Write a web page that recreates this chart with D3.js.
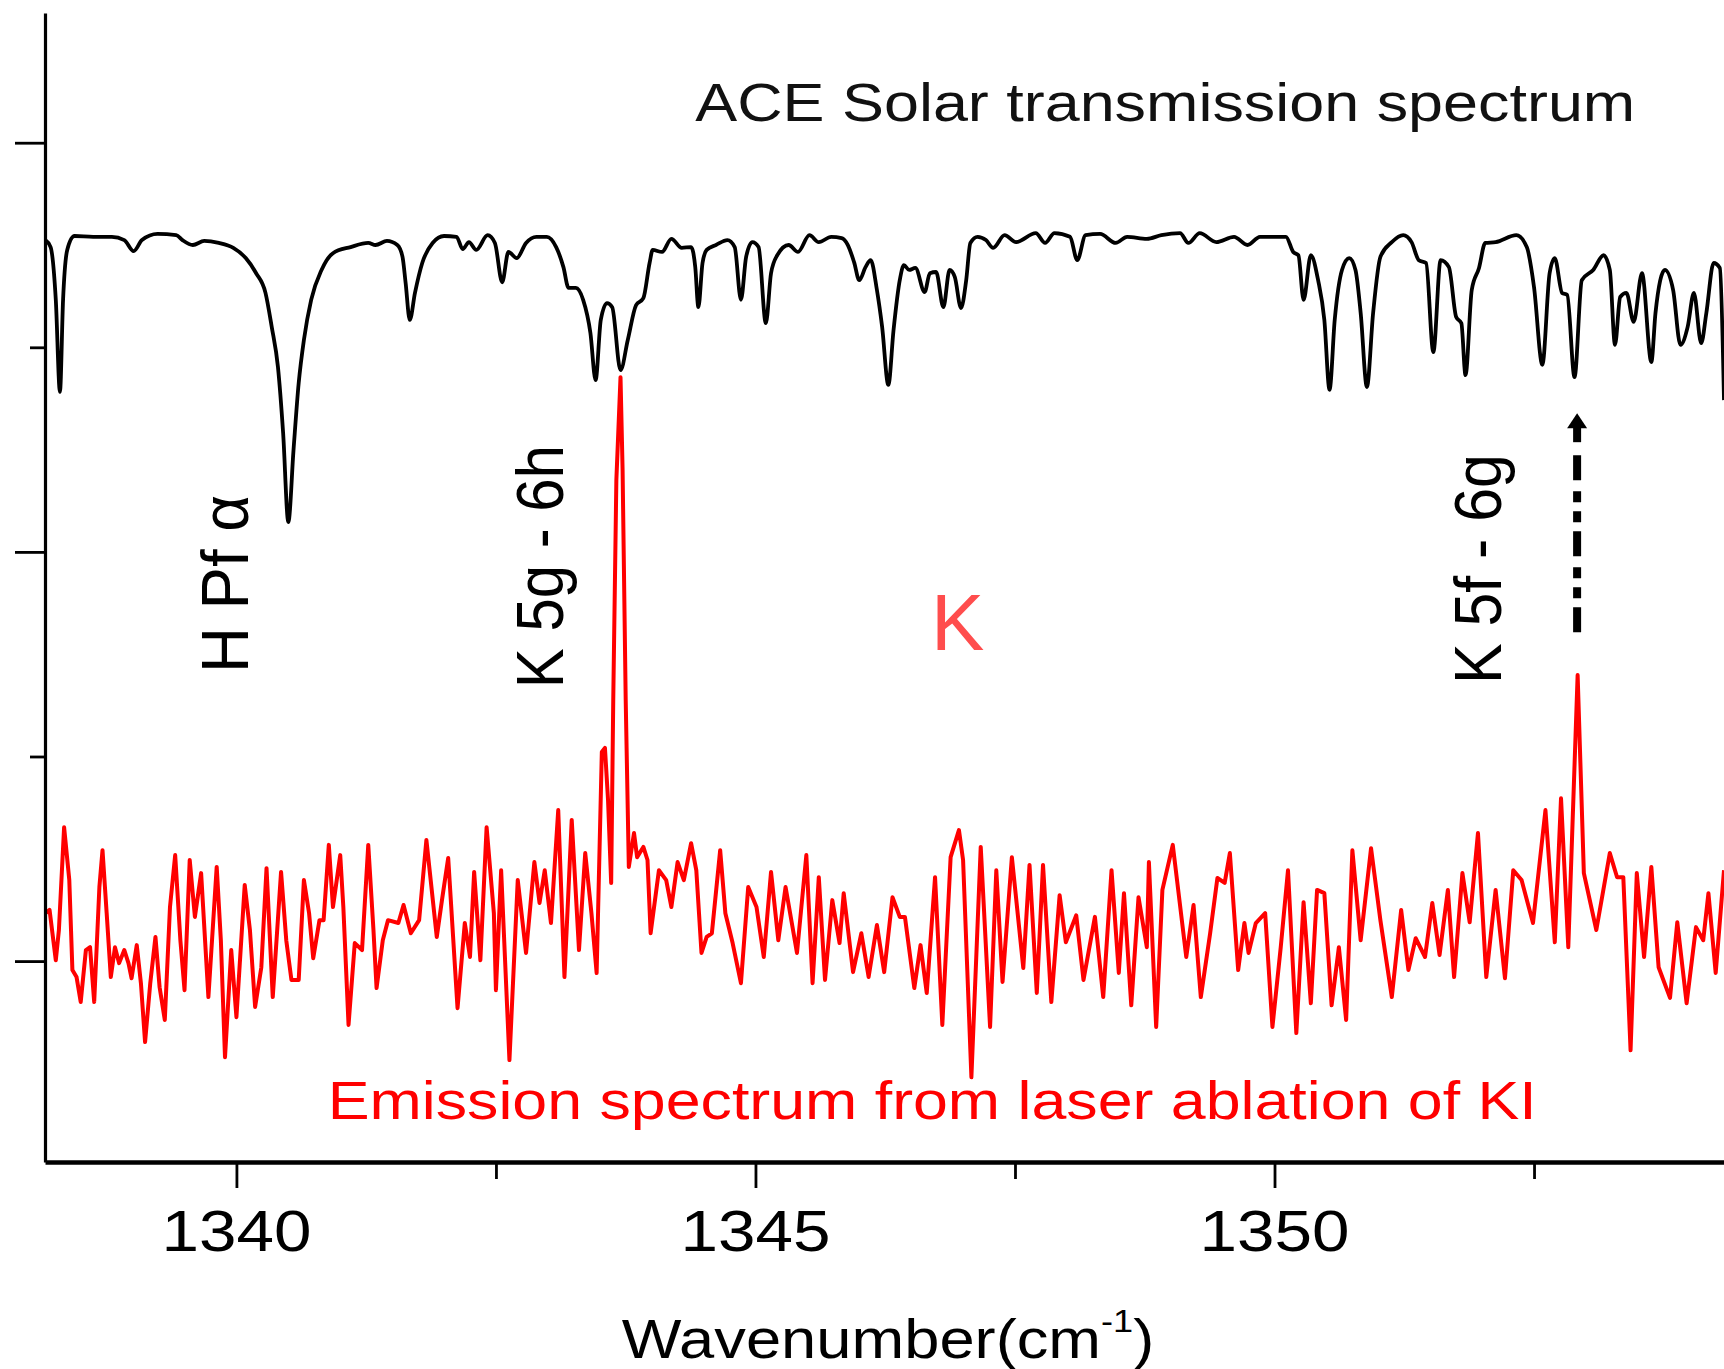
<!DOCTYPE html>
<html>
<head>
<meta charset="utf-8">
<script src="https://cdn.jsdelivr.net/npm/d3@7"></script>
<style>
  html, body { margin: 0; padding: 0; background: #fff; }
  svg { display: block; }
  text { font-family: "Liberation Sans", Arial, Helvetica, sans-serif; }
</style>
</head>
<body>
<script>
// ---------------- data ----------------
// ACE solar transmission spectrum (black, arbitrary units)
const solarWavenumber = [
1338.16,1338.21,1338.26,1338.30,1338.33,1338.37,1338.44,1338.62,1338.80,1338.92,1339.01,1339.09,1339.24,1339.42,1339.48,1339.58,1339.69,1339.83,1339.97,1340.09,
1340.19,1340.28,1340.34,1340.40,1340.45,1340.50,1340.55,1340.60,1340.65,1340.72,1340.82,1340.93,1341.10,1341.27,1341.34,1341.45,1341.55,1341.60,1341.63,1341.67,
1341.72,1341.79,1341.89,1342.00,1342.12,1342.18,1342.24,1342.31,1342.42,1342.49,1342.56,1342.62,1342.70,1342.79,1342.89,1342.99,1343.08,1343.15,1343.20,1343.27,
1343.34,1343.41,1343.46,1343.51,1343.57,1343.62,1343.70,1343.77,1343.85,1343.92,1343.98,1344.01,1344.10,1344.19,1344.29,1344.38,1344.42,1344.45,1344.49,1344.53,
1344.62,1344.73,1344.80,1344.86,1344.91,1344.97,1345.03,1345.10,1345.15,1345.21,1345.32,1345.41,1345.52,1345.61,1345.73,1345.83,1345.89,1345.95,1346.00,1346.06,
1346.11,1346.17,1346.22,1346.28,1346.33,1346.39,1346.43,1346.48,1346.54,1346.63,1346.68,1346.74,1346.81,1346.87,1346.92,1346.98,1347.03,1347.07,1347.14,1347.22,
1347.29,1347.40,1347.51,1347.70,1347.79,1347.88,1348.03,1348.10,1348.18,1348.32,1348.47,1348.58,1348.77,1348.91,1349.09,1349.17,1349.28,1349.44,1349.61,1349.74,
1349.86,1350.11,1350.18,1350.23,1350.28,1350.35,1350.42,1350.48,1350.53,1350.58,1350.65,1350.72,1350.78,1350.83,1350.89,1350.95,1351.02,1351.13,1351.24,1351.32,
1351.39,1351.46,1351.53,1351.60,1351.68,1351.75,1351.80,1351.84,1351.90,1351.97,1352.03,1352.13,1352.33,1352.43,1352.50,1352.58,1352.65,1352.70,1352.77,1352.82,
1352.89,1352.96,1353.07,1353.17,1353.23,1353.28,1353.33,1353.39,1353.46,1353.54,1353.63,1353.67,1353.76,1353.84,1353.91,1353.98,1354.04,1354.11,1354.16,1354.23,
1354.29,1354.33];
const solarSignal = [
1.762,1.745,1.616,1.391,1.616,1.738,1.772,1.770,1.770,1.762,1.735,1.762,1.777,1.774,1.762,1.750,1.760,1.755,1.743,1.718,
1.681,1.633,1.550,1.452,1.290,1.073,1.249,1.413,1.518,1.616,1.689,1.730,1.745,1.755,1.750,1.760,1.750,1.721,1.657,1.567,
1.633,1.706,1.755,1.772,1.770,1.740,1.757,1.738,1.774,1.755,1.659,1.733,1.718,1.755,1.770,1.770,1.745,1.696,1.645,1.645,
1.616,1.535,1.420,1.567,1.608,1.598,1.444,1.518,1.603,1.620,1.706,1.738,1.733,1.765,1.743,1.745,1.696,1.598,1.706,1.738,
1.750,1.762,1.745,1.616,1.721,1.757,1.745,1.559,1.681,1.725,1.750,1.733,1.774,1.757,1.770,1.767,1.750,1.708,1.664,1.696,
1.713,1.640,1.550,1.408,1.542,1.664,1.701,1.689,1.694,1.635,1.681,1.684,1.598,1.689,1.672,1.596,1.664,1.755,1.770,1.762,
1.743,1.774,1.757,1.779,1.755,1.779,1.770,1.713,1.774,1.777,1.755,1.770,1.765,1.774,1.779,1.755,1.779,1.757,1.770,1.750,
1.770,1.770,1.733,1.725,1.616,1.725,1.664,1.567,1.396,1.567,1.689,1.718,1.689,1.584,1.403,1.584,1.721,1.757,1.774,1.757,
1.713,1.706,1.488,1.713,1.696,1.574,1.559,1.432,1.640,1.694,1.755,1.757,1.774,1.745,1.647,1.457,1.681,1.718,1.633,1.628,
1.427,1.664,1.689,1.725,1.689,1.506,1.623,1.633,1.562,1.681,1.464,1.584,1.689,1.640,1.506,1.550,1.633,1.510,1.584,1.706,
1.694,1.371];

// Emission spectrum from laser ablation of KI (red, arbitrary units)
const emissionWavenumber = [
1338.16,1338.20,1338.26,1338.29,1338.34,1338.39,1338.42,1338.46,1338.50,1338.55,1338.59,1338.63,1338.68,1338.71,1338.75,1338.79,1338.83,1338.87,1338.92,1338.96,
1338.99,1339.04,1339.08,1339.12,1339.17,1339.22,1339.26,1339.31,1339.36,1339.41,1339.46,1339.50,1339.55,1339.60,1339.66,1339.73,1339.81,1339.85,1339.89,1339.95,
1340.00,1340.08,1340.13,1340.18,1340.24,1340.29,1340.35,1340.43,1340.48,1340.53,1340.60,1340.65,1340.70,1340.74,1340.80,1340.84,1340.89,1340.93,1341.00,1341.03,
1341.08,1341.14,1341.21,1341.27,1341.32,1341.35,1341.41,1341.46,1341.56,1341.61,1341.68,1341.76,1341.83,1341.93,1341.98,1342.04,1342.13,1342.20,1342.25,1342.29,
1342.35,1342.41,1342.48,1342.50,1342.55,1342.63,1342.71,1342.79,1342.87,1342.92,1342.97,1343.03,1343.10,1343.16,1343.23,1343.30,1343.36,1343.42,1343.47,1343.52,
1343.55,1343.58,1343.61,1343.63,1343.66,1343.70,1343.72,1343.75,1343.78,1343.83,1343.86,1343.92,1343.96,1343.99,1344.07,1344.14,1344.19,1344.25,1344.31,1344.38,
1344.43,1344.48,1344.53,1344.58,1344.66,1344.71,1344.78,1344.86,1344.93,1345.01,1345.08,1345.15,1345.22,1345.29,1345.40,1345.49,1345.55,1345.61,1345.67,1345.74,
1345.81,1345.85,1345.94,1346.02,1346.09,1346.17,1346.24,1346.32,1346.39,1346.44,1346.53,1346.59,1346.65,1346.73,1346.80,1346.88,1346.96,1347.00,1347.08,1347.17,
1347.26,1347.32,1347.38,1347.47,1347.58,1347.64,1347.71,1347.77,1347.85,1347.93,1347.99,1348.09,1348.16,1348.27,1348.35,1348.43,1348.50,1348.55,1348.62,1348.69,
1348.77,1348.79,1348.86,1348.92,1349.02,1349.15,1349.22,1349.29,1349.38,1349.45,1349.52,1349.57,1349.65,1349.71,1349.75,1349.82,1349.91,1349.98,1350.06,1350.13,
1350.21,1350.28,1350.35,1350.41,1350.48,1350.55,1350.62,1350.69,1350.75,1350.83,1350.93,1351.02,1351.13,1351.22,1351.29,1351.36,1351.45,1351.52,1351.59,1351.67,
1351.73,1351.81,1351.88,1351.96,1352.04,1352.13,1352.22,1352.30,1352.38,1352.49,1352.61,1352.70,1352.76,1352.83,1352.92,1352.98,1353.10,1353.23,1353.30,1353.36,
1353.43,1353.49,1353.56,1353.63,1353.70,1353.81,1353.88,1353.97,1354.06,1354.13,1354.18,1354.25,1354.33];
const emissionSignal = [
0.117,0.125,0.002,0.076,0.327,0.198,-0.022,-0.039,-0.100,0.027,0.034,-0.100,0.181,0.271,0.117,-0.039,0.034,-0.005,0.027,-0.005,
-0.042,0.039,-0.054,-0.198,-0.054,0.059,-0.064,-0.144,0.132,0.259,0.051,-0.071,0.247,0.108,0.215,-0.088,0.230,0.051,-0.235,0.027,
-0.137,0.186,0.076,-0.112,-0.015,0.227,-0.088,0.218,0.051,-0.046,-0.046,0.198,0.117,0.007,0.100,0.100,0.284,0.132,0.259,0.132,
-0.156,0.044,0.027,0.284,0.076,-0.066,0.051,0.100,0.093,0.137,0.068,0.100,0.296,0.059,0.149,0.252,-0.115,0.093,0.010,0.218,
0.002,0.327,0.117,-0.071,0.222,-0.242,0.198,0.020,0.242,0.142,0.222,0.093,0.369,-0.039,0.345,0.027,0.264,0.117,-0.029,0.511,
0.521,0.393,0.191,0.638,1.176,1.427,1.200,0.638,0.230,0.313,0.254,0.279,0.247,0.068,0.222,0.198,0.132,0.242,0.198,0.288,
0.222,0.020,0.059,0.068,0.271,0.117,0.044,-0.054,0.181,0.132,0.010,0.218,0.051,0.181,0.020,0.259,-0.054,0.205,-0.046,0.149,
0.044,0.166,-0.027,0.068,-0.039,0.088,-0.027,0.156,0.108,0.108,-0.066,0.039,-0.078,0.205,-0.156,0.254,0.320,0.247,-0.284,0.279,
-0.161,0.222,-0.051,0.254,-0.017,0.235,-0.078,0.235,-0.100,0.161,0.046,0.112,-0.046,0.108,-0.088,0.222,-0.029,0.166,-0.108,0.156,
0.034,0.242,-0.161,0.174,0.284,0.010,0.137,-0.088,0.068,0.203,0.191,0.264,-0.022,0.093,0.020,0.093,0.117,-0.161,0.034,0.222,
-0.176,0.144,-0.103,0.174,0.166,-0.108,0.034,-0.144,0.271,0.051,0.276,0.100,-0.088,0.125,-0.022,0.056,0.010,0.142,0.015,0.174,
-0.039,0.215,0.095,0.313,-0.039,0.174,-0.042,0.222,0.198,0.093,0.369,0.046,0.398,0.034,0.699,0.215,0.076,0.264,0.205,0.205,
-0.218,0.215,0.010,0.230,-0.015,-0.090,0.095,-0.103,0.083,0.051,0.166,-0.029,0.222];

// axis ticks
const xMajorTicks = [1340, 1345, 1350];
const xMinorTicks = [1342.5, 1347.5, 1352.5];
const yMajorTicks = [0, 1, 2];
const yMinorTicks = [0.5, 1.5];

// annotations (positions in data units)
const lineLabels = [
  { text: "H Pf α",    wn: 1340.11, v: 0.704, len: 178 },
  { text: "K 5g - 6h", wn: 1343.15, v: 0.667, len: 243 },
  { text: "K 5f - 6g", wn: 1352.18, v: 0.677, len: 230 }
];
const arrowWavenumber = 1352.915;
const arrowFrom = 0.802, arrowTo = 1.339;

// ---------------- chart ----------------
const W = 1724, H = 1369;
const svg = d3.select("body").append("svg")
  .attr("width", W).attr("height", H)
  .attr("viewBox", `0 0 ${W} ${H}`);

const x = d3.scaleLinear().domain([1338.156, 1354.33]).range([45, 1724]);
const y = d3.scaleLinear().domain([-0.491, 2.317]).range([1162, 13]);

const solar = d3.zip(solarWavenumber, solarSignal);
const emission = d3.zip(emissionWavenumber, emissionSignal);

svg.append("defs").append("clipPath").attr("id", "plotclip")
  .append("rect").attr("x", 45).attr("y", 0).attr("width", W - 45).attr("height", 1162);

const plot = svg.append("g").attr("clip-path", "url(#plotclip)");

plot.append("path")
  .datum(emission)
  .attr("fill", "none")
  .attr("stroke", "#ff0000")
  .attr("stroke-width", 4)
  .attr("stroke-linejoin", "round")
  .attr("d", d3.line().x(d => x(d[0])).y(d => y(d[1])));

plot.append("path")
  .datum(solar)
  .attr("fill", "none")
  .attr("stroke", "#000")
  .attr("stroke-width", 3.8)
  .attr("stroke-linejoin", "round")
  .attr("d", d3.line().curve(d3.curveMonotoneX).x(d => x(d[0])).y(d => y(d[1])));

// axes
function styleAxis(g, w) {
  g.selectAll("path.domain").attr("stroke", "#000").attr("stroke-width", w);
  g.selectAll(".tick line").attr("stroke", "#000").attr("stroke-width", 2.8);
  g.selectAll(".tick text").remove();
}
svg.append("g").attr("transform", "translate(0,1162)")
  .call(d3.axisBottom(x).tickValues(xMinorTicks).tickSize(17).tickSizeOuter(0).tickFormat(""))
  .call(g => styleAxis(g, 0));
svg.append("g").attr("transform", "translate(0,1162)")
  .call(d3.axisBottom(x).tickValues(xMajorTicks).tickSize(26).tickSizeOuter(0).tickFormat(""))
  .call(g => styleAxis(g, 4.5));
svg.append("g").attr("transform", "translate(45,0)")
  .call(d3.axisLeft(y).tickValues(yMinorTicks).tickSize(15).tickSizeOuter(0).tickFormat(""))
  .call(g => styleAxis(g, 0));
svg.append("g").attr("transform", "translate(45,0)")
  .call(d3.axisLeft(y).tickValues(yMajorTicks).tickSize(30).tickSizeOuter(0).tickFormat(""))
  .call(g => styleAxis(g, 3.2));

// x tick labels
svg.append("g").selectAll("text").data(xMajorTicks).join("text")
  .attr("x", d => x(d)).attr("y", 1251)
  .attr("text-anchor", "middle")
  .attr("font-size", 58)
  .attr("textLength", 150).attr("lengthAdjust", "spacingAndGlyphs")
  .attr("fill", "#000")
  .text(d => d3.format("d")(d));

// x axis title
const xt = svg.append("text")
  .attr("transform", "translate(888,1358) scale(1.13,1)")
  .attr("text-anchor", "middle")
  .attr("font-size", 56).attr("fill", "#000");
xt.append("tspan").text("Wavenumber(cm");
xt.append("tspan").attr("font-size", 32).attr("dy", -26).text("-1");
xt.append("tspan").attr("font-size", 56).attr("dy", 26).text(")");

// top title
svg.append("text")
  .attr("x", x(1344.42)).attr("y", y(2.053))
  .attr("font-size", 54).attr("fill", "#111")
  .attr("textLength", 940).attr("lengthAdjust", "spacingAndGlyphs")
  .text("ACE Solar transmission spectrum");

// emission label
svg.append("text")
  .attr("x", x(1340.88)).attr("y", y(-0.386))
  .attr("font-size", 54).attr("fill", "#ff0000")
  .attr("textLength", 1209).attr("lengthAdjust", "spacingAndGlyphs")
  .text("Emission spectrum from laser ablation of KI");

// rotated line labels
svg.append("g").selectAll("text").data(lineLabels).join("text")
  .attr("transform", d => `translate(${x(d.wn)},${y(d.v)}) rotate(-90)`)
  .attr("font-size", 66).attr("fill", "#000")
  .attr("textLength", d => d.len).attr("lengthAdjust", "spacingAndGlyphs")
  .text(d => d.text);

// red K
svg.append("text")
  .attr("x", x(1346.69)).attr("y", y(0.760))
  .attr("font-family", "'Open Sans', 'Noto Sans', sans-serif")
  .attr("font-size", 80).attr("fill", "#ff4d4d")
  .text("K");

// dashed arrow
const ax = x(arrowWavenumber);
const headBase = y(arrowTo) + 15;
svg.append("line")
  .attr("x1", ax).attr("x2", ax)
  .attr("y1", headBase + 27).attr("y2", y(arrowFrom))
  .attr("stroke", "#000").attr("stroke-width", 8)
  .attr("stroke-dasharray", "25,11,11,9,11,9");
svg.append("line")
  .attr("x1", ax).attr("x2", ax)
  .attr("y1", headBase - 2).attr("y2", headBase + 14)
  .attr("stroke", "#000").attr("stroke-width", 8);
svg.append("path")
  .attr("d", `M${ax - 10},${headBase} L${ax + 10},${headBase} L${ax},${y(arrowTo)} Z`)
  .attr("fill", "#000");
</script>
</body>
</html>
